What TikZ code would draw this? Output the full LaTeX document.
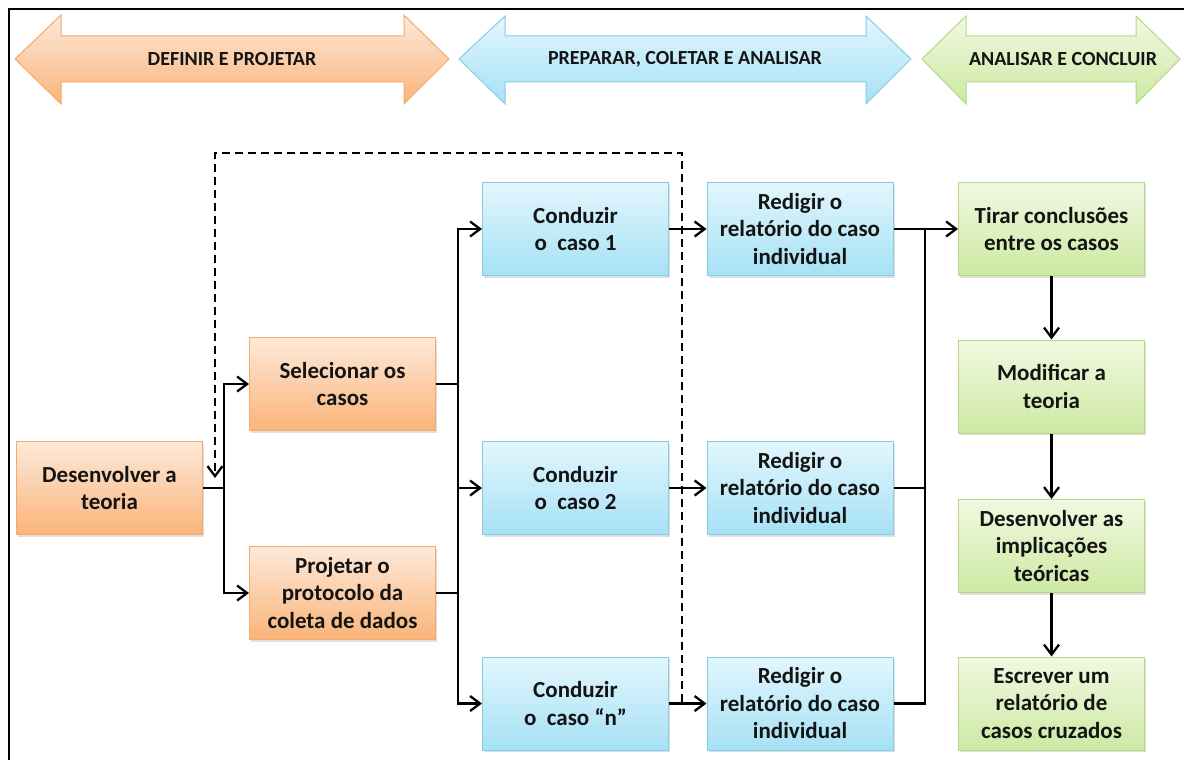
\documentclass[tikz,border=0pt]{standalone}
\usepackage{fontspec}
\setmainfont{Carlito}
\usetikzlibrary{arrows.meta,shadows}
\definecolor{orTop}{HTML}{FDE9D9}
\definecolor{orBot}{HTML}{FAB47A}
\definecolor{orLine}{HTML}{F5A96A}
\definecolor{blTop}{HTML}{E2F6FD}
\definecolor{blBot}{HTML}{A6E1F5}
\definecolor{blLine}{HTML}{86CDE2}
\definecolor{grTop}{HTML}{F1F8E1}
\definecolor{grBot}{HTML}{CDE9A3}
\definecolor{grLine}{HTML}{B4D888}
\tikzset{
  box/.style={rectangle, draw, line width=1pt, align=center,
    font=\bfseries\fontsize{23}{27.5}\selectfont, text=black!92,
    minimum width=186pt, minimum height=93pt, inner sep=2pt,
    drop shadow={opacity=0.25, shadow xshift=1.5pt, shadow yshift=-2pt}},
  obox/.style={box, draw=orLine, top color=orTop, bottom color=orBot},
  bbox/.style={box, draw=blLine, top color=blTop, bottom color=blBot},
  gbox/.style={box, draw=grLine, top color=grTop, bottom color=grBot},
  conn/.style={line width=2.3pt, black},
  arr/.style={conn, -{Straight Barb[length=10pt,width=15pt,line width=2.3pt]}},
  dashconn/.style={line width=2.5pt, black, dash pattern=on 8pt off 5pt,
    -{Straight Barb[length=10pt,width=15pt,line width=2.3pt]}},
  phase/.style={font=\bfseries\fontsize{20}{24}\selectfont, text=black!92},
}
\begin{document}
\begin{tikzpicture}[x=1pt,y=-1pt]
\useasboundingbox (0,0) rectangle (1184,760);
% frame
\draw[line width=2.5pt, black] (9,760) -- (9,9) -- (1184,9);

% phase arrows
\shade[top color=orTop, bottom color=orBot, draw=orLine, line width=1pt]
  (15,59) -- (61,15) -- (61,36) -- (404,36) -- (404,15) -- (449,59) -- (404,104) -- (404,82) -- (61,82) -- (61,104) -- cycle;
\node[phase] (p1) at (232,59) {DEFINIR E PROJETAR};
\shade[top color=blTop, bottom color=blBot, draw=blLine, line width=1pt]
  (459,59) -- (505,16) -- (505,36) -- (866,36) -- (866,16) -- (911,59) -- (866,104) -- (866,82) -- (505,82) -- (505,104) -- cycle;
\node[phase] (p2) at (685,59) {PREPARAR, COLETAR E ANALISAR};
\shade[top color=grTop, bottom color=grBot, draw=grLine, line width=1pt]
  (922,59) -- (966,16) -- (966,36) -- (1136,36) -- (1136,16) -- (1180,59) -- (1136,104) -- (1136,82) -- (966,82) -- (966,104) -- cycle;
\node[phase] (p3) at (1063,59) {ANALISAR E CONCLUIR};

% boxes
\node[obox] (des) at (109.5,488) {Desenvolver a\\teoria};
\node[obox] (sel) at (342.5,384) {Selecionar os\\casos};
\node[obox] (proj) at (342.5,593) {Projetar o\\protocolo da\\coleta de dados};
\node[bbox] (c1) at (575.5,229) {Conduzir\\o~~caso 1};
\node[bbox] (c2) at (575.5,488) {Conduzir\\o~~caso 2};
\node[bbox] (cn) at (575.5,703.5) {Conduzir\\o~~caso “n”};
\node[bbox] (r1) at (800,229) {Redigir o\\relatório do caso\\individual};
\node[bbox] (r2) at (800,488) {Redigir o\\relatório do caso\\individual};
\node[bbox] (rn) at (800,703.5) {Redigir o\\relatório do caso\\individual};
\node[gbox] (t) at (1051.5,229) {Tirar conclusões\\entre os casos};
\node[gbox] (m) at (1051.5,386.5) {Modificar a\\teoria};
\node[gbox] (d) at (1051.5,546) {Desenvolver as\\implicações\\teóricas};
\node[gbox] (e) at (1051.5,703.5) {Escrever um\\relatório de\\casos cruzados};

% junctions
\coordinate (j1) at (224,488);
\coordinate (j2) at (458,488);
\coordinate (j3) at (925,488);

% connectors left
\draw[conn] (des.east) -- (j1);
\draw[arr] (j1) |- (sel.west);
\draw[arr] (j1) |- (proj.west);
\draw[conn] (sel.east) -- (sel.east -| j2);
\draw[conn] (proj.east) -- (proj.east -| j2);
\draw[conn] (sel.east -| j2) -- (proj.east -| j2);
\draw[arr] (sel.east -| j2) |- (c1.west);
\draw[arr] (proj.east -| j2) |- (cn.west);
\draw[arr] (j2) -- (c2.west);
\draw[arr] (c1.east) -- (r1.west);
\draw[arr] (c2.east) -- (r2.west);
\draw[arr] (cn.east) -- (rn.west);
% connectors right
\draw[arr] (r1.east) -- (t.west);
\draw[conn] (r2.east) -- (j3);
\draw[conn] (rn.east) -| (r1.east -| j3);
\draw[arr] (t.south) -- (m.north);
\draw[arr] (m.south) -- (d.north);
\draw[arr] (d.south) -- (e.north);

% dashed feedback
\coordinate (dstart) at (682,702);
\coordinate (dend) at (215,478);
\draw[dashconn] (dstart) -- (682,153) -- (215,153) -- (dend);
\end{tikzpicture}
\end{document}
